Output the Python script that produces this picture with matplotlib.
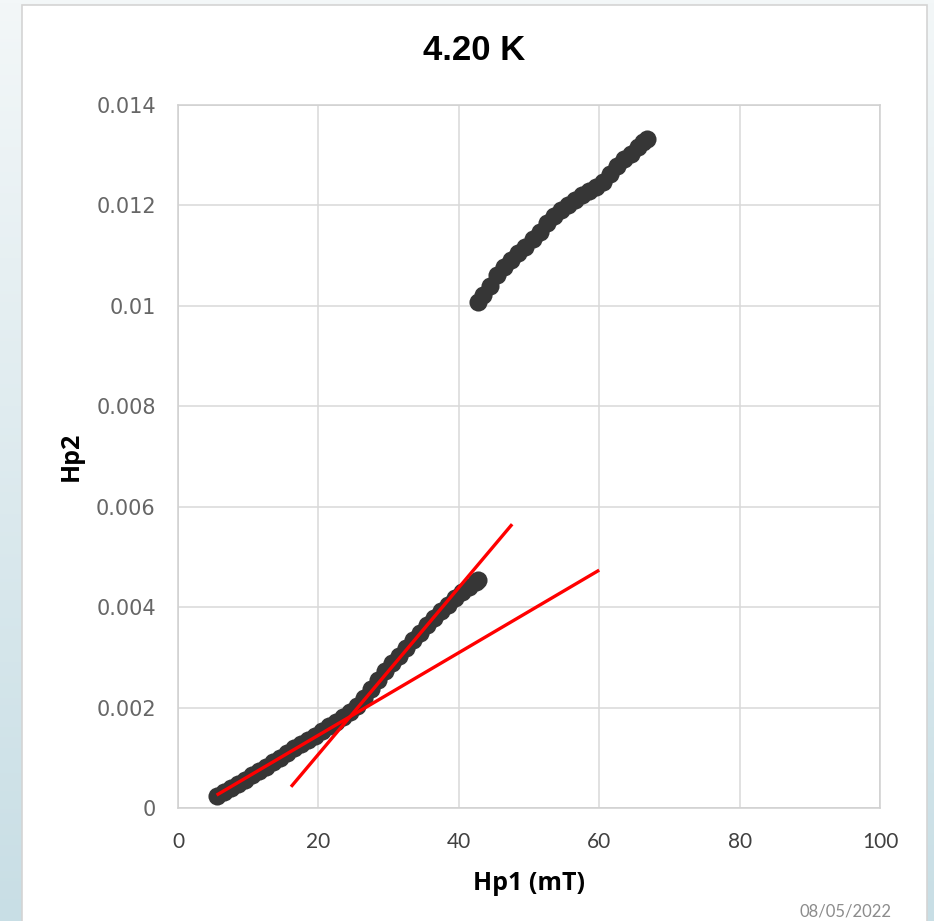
import matplotlib
matplotlib.use("Agg")
from matplotlib import pyplot as plt
from matplotlib.colors import LinearSegmentedColormap
from matplotlib.patches import Rectangle
import numpy as np

# Hp1 (mT) vs Hp2 at 4.20 K, lower branch
hp1_low = [5.5, 6.5, 7.5, 8.5, 9.5, 10.5, 11.5, 12.5, 13.5, 14.5, 15.5, 16.5, 17.5,
           18.5, 19.5, 20.5, 21.5, 22.5, 23.5, 24.5, 25.5, 26.5, 27.5, 28.5, 29.5,
           30.5, 31.5, 32.5, 33.5, 34.5, 35.5, 36.5, 37.5, 38.5, 39.5, 40.5, 41.5,
           42.5, 42.8]
hp2_low = [0.00024, 0.00031, 0.00039, 0.00047, 0.00056, 0.00065, 0.00073, 0.00082,
           0.00091, 0.00100, 0.00110, 0.00119, 0.00127, 0.00135, 0.00144, 0.00154,
           0.00163, 0.00172, 0.00181, 0.00191, 0.00204, 0.00219, 0.00237, 0.00255,
           0.00272, 0.00288, 0.00302, 0.00318, 0.00334, 0.00349, 0.00365, 0.00378,
           0.00392, 0.00405, 0.00418, 0.00430, 0.00441, 0.00450, 0.00455]

# upper branch
hp1_high = [42.8, 43.5, 44.5, 45.5, 46.5, 47.5, 48.5, 49.5, 50.5, 51.5, 52.5, 53.5,
            54.5, 55.5, 56.5, 57.5, 58.5, 59.5, 60.5, 61.5, 62.5, 63.5, 64.5, 65.5,
            66.3, 66.8]
hp2_high = [0.01008, 0.01022, 0.01040, 0.01062, 0.01078, 0.01092, 0.01105, 0.01118,
            0.01133, 0.01148, 0.01165, 0.01178, 0.01190, 0.01200, 0.01210, 0.01220,
            0.01228, 0.01236, 0.01246, 0.01262, 0.01278, 0.01292, 0.01303, 0.01316,
            0.01327, 0.01333]

# linear fits: (slope, intercept, x start, x end)
fits = [(8.22e-5, -0.000195, 5.5, 60.0),
        (1.66e-4, -0.00225, 16.1, 47.6)]

x_ticks = [0, 20, 40, 60, 80, 100]
y_ticks = [0, 0.002, 0.004, 0.006, 0.008, 0.01, 0.012, 0.014]
y_tick_labels = ["0", "0.002", "0.004", "0.006", "0.008", "0.01", "0.012", "0.014"]

fig = plt.figure(figsize=(9.34, 9.21), dpi=100)

# slide background gradient + white panel
bg = fig.add_axes([0, 0, 1, 1], zorder=-10)
cmap = LinearSegmentedColormap.from_list("bg", ["#f3f7f8", "#c8dee5"])
bg.imshow(np.linspace(0, 1, 256).reshape(-1, 1), aspect="auto", cmap=cmap,
          extent=[0, 1, 0, 1])
bg.add_patch(Rectangle((22 / 934, -0.01), 905 / 934, 1 - 5 / 921 + 0.01,
                       facecolor="white", edgecolor="#d4d4d4", linewidth=1.2))
bg.set_xlim(0, 1)
bg.set_ylim(0, 1)
bg.axis("off")

ax = fig.add_axes([178 / 934, 1 - 808 / 921, 702 / 934, 703 / 921])
ax.set_facecolor("none")

ax.scatter(hp1_low, hp2_low, s=170, color="#363636", linewidths=0, zorder=3)
ax.scatter(hp1_high, hp2_high, s=170, color="#363636", linewidths=0, zorder=3)

for m, b, x0, x1 in fits:
    xs = np.array([x0, x1])
    ax.plot(xs, m * xs + b, color="#ff0000", linewidth=2.4, zorder=4,
            solid_capstyle="butt")

ax.set_xlim(0, 100)
ax.set_ylim(0, 0.014)
ax.set_xticks(x_ticks)
ax.set_yticks(y_ticks)
ax.set_yticklabels(y_tick_labels)
ax.grid(True, color="#d9d9d9", linewidth=1.1, zorder=0)
ax.set_axisbelow(True)
for s in ax.spines.values():
    s.set_color("#d0d0d0")
    s.set_linewidth(1.1)

ax.tick_params(axis="both", length=0)
ax.tick_params(axis="y", pad=16, labelsize=15, labelcolor="#666666")
ax.tick_params(axis="x", pad=17, labelsize=15, labelcolor="#404040")
for t in ax.get_xticklabels():
    t.set_family("Lato")
for t in ax.get_yticklabels():
    t.set_family("DejaVu Sans")

ax.set_xlabel("Hp1 (mT)", fontsize=18, fontweight="bold", family="Open Sans",
              labelpad=14)
ax.set_ylabel("Hp2", fontsize=18, fontweight="bold", family="Open Sans",
              labelpad=9)

fig.text(474 / 934, 1 - 50 / 921, "4.20 K", fontsize=25, fontweight="bold",
         family="Liberation Sans", ha="center", va="center")

# date footer along the bottom edge
fig.text(845 / 934, 1.5 / 921, "08/05/2022", fontsize=12, color="#8c8c8c",
         family="Lato", ha="center", va="bottom")

fig.savefig("out.png", dpi=100)
